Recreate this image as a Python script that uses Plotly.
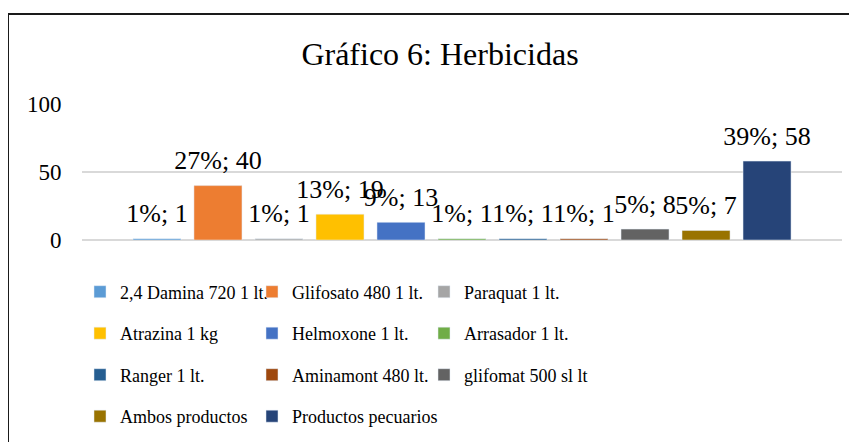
import plotly.graph_objects as go

categories = ["2,4 Damina 720 1 lt.", "Glifosato 480 1 lt.", "Paraquat 1 lt.",
              "Atrazina 1 kg", "Helmoxone 1 lt.", "Arrasador 1 lt.",
              "Ranger 1 lt.", "Aminamont 480 lt.", "glifomat 500 sl lt",
              "Ambos productos", "Productos pecuarios"]
values = [1, 40, 1, 19, 13, 1, 1, 1, 8, 7, 58]
percents = [1, 27, 1, 13, 9, 1, 1, 1, 5, 5, 39]
colors = ["#5B9BD5", "#ED7D31", "#A5A5A5", "#FFC000", "#4472C4", "#70AD47",
          "#255E91", "#9E480E", "#636363", "#997300", "#264478"]
y_ticks = [0, 50, 100]

FONT = "Liberation Serif, Times New Roman, serif"
W, H = 857, 442
OFF = 8  # page body margin offset
# plot area in screen pixels: x 82..842, y 104..240
L, T = 82 - OFF, 104 - OFF
R, B = W - (842 - OFF), H - (240 - OFF)
PW, PH = W - L - R, H - T - B

def sy(py):  # screen y -> paper y
    return ((240 - OFF) - (py - OFF)) / PH

def sx(px):  # screen x -> paper x
    return ((px - OFF) - L) / PW

fig = go.Figure()
legend_names = ["legend", "legend2", "legend3", "legend4"]
n = len(categories)
for i, (name, v, c) in enumerate(zip(categories, values, colors)):
    last_in_row = (i % 3 == 2) or (i == n - 1)
    fig.add_trace(go.Bar(
        x=[""], y=[v], name=name, marker_color=c,
        cliponaxis=False, hoverinfo="skip",
        legend=legend_names[i // 3],
        legendwidth=175 if last_in_row else None,
    ))
for i, (v, p) in enumerate(zip(values, percents)):
    fig.add_trace(go.Scatter(
        x=[""], y=[v], mode="markers+text",
        text=[f"{p}%; {v}"], textposition="top center",
        textfont=dict(family=FONT, size=26, color="#000000"),
        marker=dict(size=14, opacity=0), showlegend=False,
        cliponaxis=False, hoverinfo="skip",
    ))

row_centers = [292, 333.5, 375, 416.5]
legend_cfg = {}
for k, ln in enumerate(legend_names):
    legend_cfg[ln] = dict(
        orientation="h", x=sx(80), xanchor="left",
        y=sy(row_centers[k]), yanchor="middle",
        font=dict(family=FONT, size=18, color="#000000"),
        entrywidth=127, bgcolor="rgba(0,0,0,0)", traceorder="normal",
        itemclick=False, itemdoubleclick=False,
    )

fig.update_layout(
    width=W, height=H,
    margin=dict(l=L, r=R, t=T, b=B, pad=0, autoexpand=False),
    paper_bgcolor="white", plot_bgcolor="white",
    barmode="group", bargap=0.117, bargroupgap=0.213,
    scattermode="group", scattergap=0.117,
    title=dict(text="Gráfico 6: Herbicidas", x=432 / W, xanchor="center",
               xref="container", y=1 - 46 / H, yanchor="middle", yref="container",
               font=dict(family=FONT, size=32, color="#000000")),
    font=dict(family=FONT, color="#000000"),
    showlegend=True,
    hovermode=False,
    **legend_cfg,
)

fig.update_xaxes(showticklabels=False, showgrid=False, zeroline=False,
                 showline=False, ticks="", fixedrange=True)
fig.update_yaxes(range=[0, 100], tickvals=y_ticks, showgrid=True,
                 gridcolor="#D9D9D9", gridwidth=1.5, zeroline=True,
                 zerolinecolor="#D9D9D9", zerolinewidth=1.5, showline=False,
                 tickfont=dict(family=FONT, size=23, color="#000000"),
                 ticks="outside", ticklen=15, tickcolor="rgba(0,0,0,0)",
                 fixedrange=True)

# chart frame
fig.add_shape(type="rect", xref="paper", yref="paper",
              x0=sx(8), x1=sx(W + 20),
              y0=sy(H + 20), y1=sy(14),
              line=dict(color="#1a1a1a", width=2), layer="below")

fig.write_html("out.html", config={"displayModeBar": False})
